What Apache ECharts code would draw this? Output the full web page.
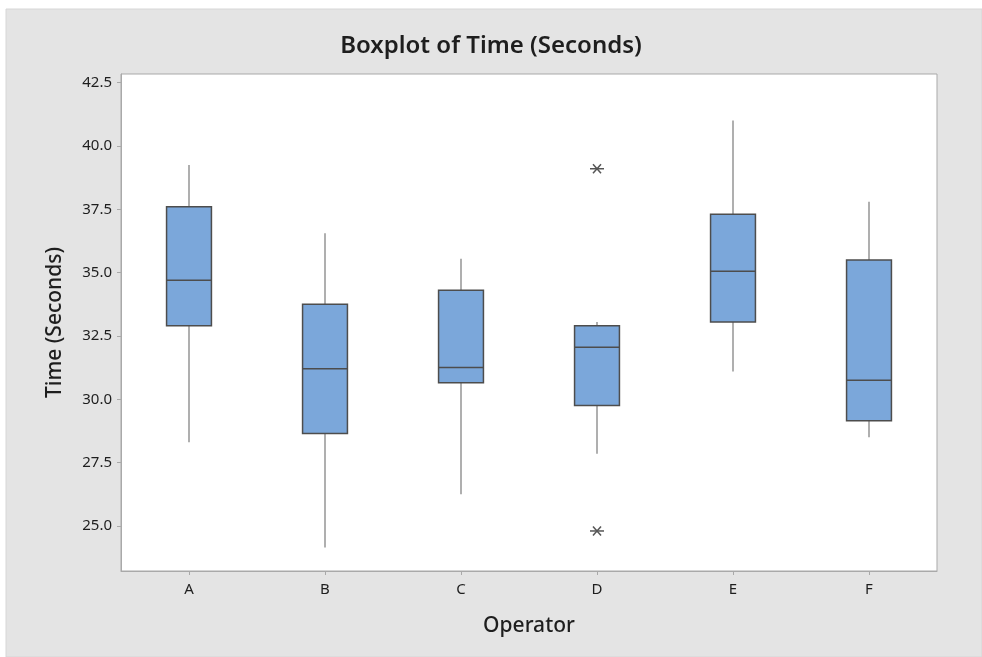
<!DOCTYPE html>
<html>
<head>
<meta charset="utf-8">
<script src="https://cdn.jsdelivr.net/npm/echarts@6/dist/echarts.min.js"></script>
<style>
  html, body { margin: 0; padding: 0; background: #fff; }
  #chart { width: 982px; height: 657px; }
</style>
</head>
<body>
<div id="chart"></div>
<script>
// operators
var operators = ['A', 'B', 'C', 'D', 'E', 'F'];
// [whisker low, Q1, median, Q3, whisker high]
var lowWhisker = [28.3, 24.15, 26.25, 27.85, 31.1, 28.5];
var q1Values = [32.9, 28.65, 30.65, 29.75, 33.05, 29.15];
var medianValues = [34.7, 31.2, 31.25, 32.05, 35.05, 30.75];
var q3Values = [37.6, 33.75, 34.3, 32.9, 37.3, 35.5];
var highWhisker = [39.25, 36.55, 35.55, 33.05, 41.0, 37.8];
// outliers: [category index, value]
var outlierPoints = [[3, 39.1], [3, 24.8]];
var yTicks = [25.0, 27.5, 30.0, 32.5, 35.0, 37.5, 40.0, 42.5];

var boxData = operators.map(function (op, i) {
  return [i, lowWhisker[i], q1Values[i], medianValues[i], q3Values[i], highWhisker[i]];
});

var chart = echarts.init(document.getElementById('chart'));
var font = '"Noto Sans", "Open Sans", sans-serif';

chart.setOption({
  animation: false,
  backgroundColor: '#ffffff',
  graphic: [{
    type: 'rect',
    z: -10,
    shape: { x: 6, y: 9, width: 976, height: 648 },
    style: { fill: '#e4e4e4', stroke: '#d6d6d6', lineWidth: 1 }
  }],
  title: {
    text: 'Boxplot of Time (Seconds)',
    left: 'center',
    top: 29,
    textStyle: { fontFamily: font, fontSize: 24, fontWeight: 600, color: '#1e1e1e' }
  },
  grid: {
    left: 121, right: 45, top: 74, bottom: 86,
    show: true,
    backgroundColor: '#ffffff',
    borderColor: '#a9a9a9',
    borderWidth: 1
  },
  xAxis: {
    type: 'category',
    data: operators,
    boundaryGap: true,
    name: 'Operator',
    nameLocation: 'middle',
    nameGap: 45,
    nameTextStyle: { fontFamily: font, fontSize: 21, fontWeight: 500, color: '#1e1e1e' },
    axisLine: { show: true, lineStyle: { color: '#a9a9a9' } },
    axisTick: { show: true, alignWithLabel: true, length: 4, lineStyle: { color: '#a9a9a9' } },
    axisLabel: { fontFamily: font, fontSize: 15, color: '#1e1e1e', margin: 11 },
    splitLine: { show: false }
  },
  yAxis: {
    type: 'value',
    min: 23.22,
    max: 42.84,
    name: 'Time (Seconds)',
    nameLocation: 'middle',
    nameGap: 55,
    nameTextStyle: { fontFamily: font, fontSize: 21, fontWeight: 500, color: '#1e1e1e' },
    axisLine: { show: true, lineStyle: { color: '#a9a9a9' } },
    axisLabel: {
      fontFamily: font, fontSize: 15, color: '#1e1e1e', margin: 9,
      customValues: yTicks,
      formatter: function (v) { return v.toFixed(1); }
    },
    axisTick: { show: true, length: 4, lineStyle: { color: '#a9a9a9' }, customValues: yTicks },
    splitLine: { show: false }
  },
  series: [{
    type: 'custom',
    name: 'box',
    data: boxData,
    encode: { x: 0, y: [1, 2, 3, 4, 5] },
    renderItem: function (params, api) {
      var x = api.value(0);
      var lo = api.coord([x, api.value(1)]);
      var q1 = api.coord([x, api.value(2)]);
      var med = api.coord([x, api.value(3)]);
      var q3 = api.coord([x, api.value(4)]);
      var hi = api.coord([x, api.value(5)]);
      var halfW = api.size([1, 0])[0] * 0.33 / 2;
      var cx = lo[0];
      var whiskerStyle = { stroke: '#959595', lineWidth: 1.5 };
      return {
        type: 'group',
        children: [
          { type: 'line', shape: { x1: cx, y1: hi[1], x2: cx, y2: q3[1] }, style: whiskerStyle },
          { type: 'line', shape: { x1: cx, y1: q1[1], x2: cx, y2: lo[1] }, style: whiskerStyle },
          {
            type: 'rect',
            shape: { x: cx - halfW, y: q3[1], width: halfW * 2, height: q1[1] - q3[1] },
            style: { fill: '#7ba7da', stroke: '#4d4d4d', lineWidth: 1.5 }
          },
          {
            type: 'line',
            shape: { x1: cx - halfW, y1: med[1], x2: cx + halfW, y2: med[1] },
            style: { stroke: '#4d4d4d', lineWidth: 1.5 }
          }
        ]
      };
    }
  }, {
    type: 'custom',
    name: 'outliers',
    data: outlierPoints,
    encode: { x: 0, y: 1 },
    renderItem: function (params, api) {
      var p = api.coord([api.value(0), api.value(1)]);
      var r = 7, dx = 4, dy = 4.5;
      var st = { stroke: '#555555', lineWidth: 1.5 };
      return {
        type: 'group',
        children: [
          { type: 'line', shape: { x1: p[0] - r, y1: p[1], x2: p[0] + r, y2: p[1] }, style: st },
          { type: 'line', shape: { x1: p[0] - dx, y1: p[1] - dy, x2: p[0] + dx, y2: p[1] + dy }, style: st },
          { type: 'line', shape: { x1: p[0] - dx, y1: p[1] + dy, x2: p[0] + dx, y2: p[1] - dy }, style: st }
        ]
      };
    }
  }]
});
</script>
</body>
</html>
